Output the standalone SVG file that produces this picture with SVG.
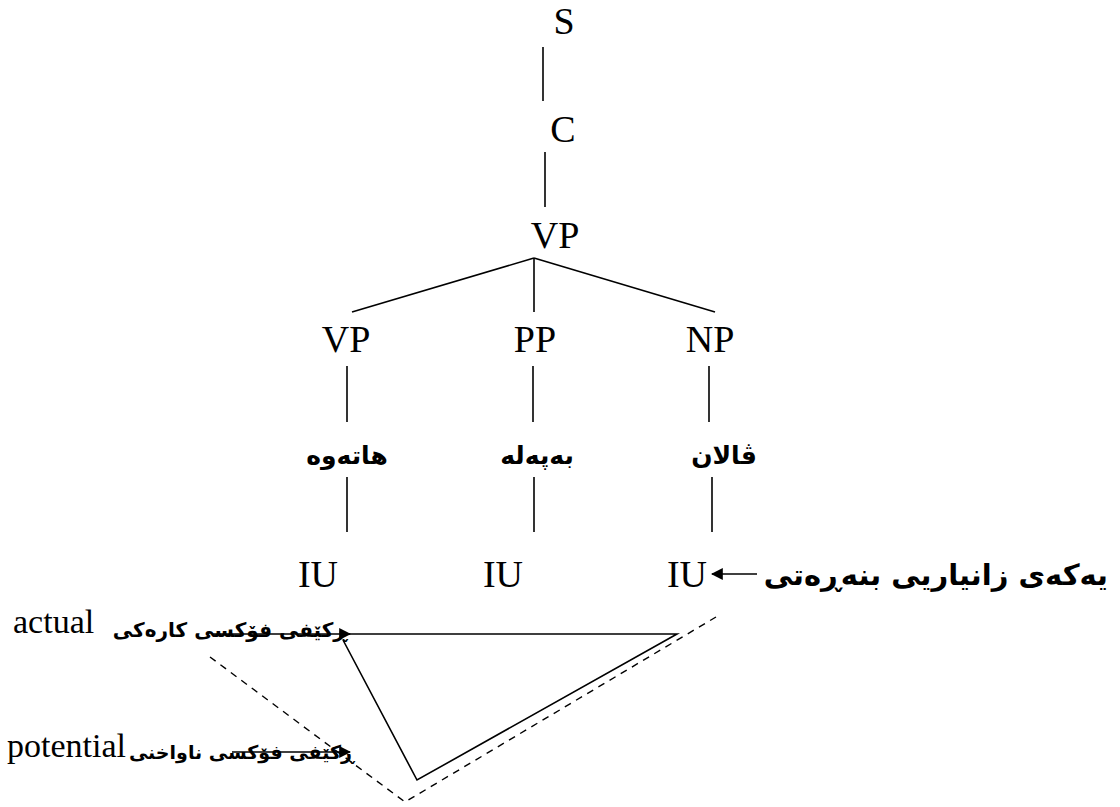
<svg xmlns="http://www.w3.org/2000/svg" width="1120" height="807" viewBox="0 0 1120 807">
<style>
.lbl{font-family:"Liberation Serif","Times New Roman",serif;font-size:38px;fill:#000;text-anchor:middle}
.en{font-family:"Liberation Serif","Times New Roman",serif;font-size:34px;fill:#000}
.ku{font-family:"DejaVu Sans","Noto Sans",sans-serif;font-weight:bold;font-size:25px;fill:#000;text-anchor:middle}
.kus{font-family:"DejaVu Sans","Noto Sans",sans-serif;font-weight:bold;font-size:20px;fill:#000;text-anchor:end}
.ln{stroke:#000;stroke-width:1.6;fill:none}
.ds{stroke:#000;stroke-width:1.4;fill:none;stroke-dasharray:7 6}
</style>
<defs>
<marker id="ahb" viewBox="0 0 10 10" refX="9" refY="5" markerWidth="12" markerHeight="12" markerUnits="userSpaceOnUse" orient="auto">
<path d="M0,0 L10,5 L0,10 z" fill="#000"/>
</marker>
</defs>
<g id="connectors">
<line class="ln" x1="543" y1="47" x2="543" y2="101"/>
<line class="ln" x1="545" y1="152" x2="545" y2="207"/>
<line class="ln" x1="534" y1="258" x2="352" y2="312"/>
<line class="ln" x1="534" y1="258" x2="534" y2="312"/>
<line class="ln" x1="534" y1="258" x2="715" y2="312"/>
<line class="ln" x1="347" y1="366" x2="347" y2="422"/>
<line class="ln" x1="533" y1="366" x2="533" y2="422"/>
<line class="ln" x1="709" y1="366" x2="709" y2="422"/>
<line class="ln" x1="347" y1="477" x2="347" y2="532"/>
<line class="ln" x1="534" y1="477" x2="534" y2="532"/>
<line class="ln" x1="712" y1="477" x2="712" y2="532"/>
<line class="ln" x1="757" y1="574" x2="712" y2="574" marker-end="url(#ahb)"/>
<line class="ln" x1="212" y1="634" x2="350" y2="634" marker-end="url(#ahb)"/>
<line class="ln" x1="232" y1="752" x2="350" y2="752" marker-end="url(#ahb)"/>
</g>
<g id="triangle">
<polyline class="ln" points="343,634 677,634 417,780 343,640"/>
<polyline class="ds" points="210,657 405,802 716,617"/>
</g>
<g id="node-S"><text class="lbl" x="564" y="34">S</text></g>
<g id="node-C"><text class="lbl" x="563" y="142">C</text></g>
<g id="node-VP"><text class="lbl" x="555" y="248">VP</text></g>
<g id="node-VP2"><text class="lbl" x="346" y="352">VP</text></g>
<g id="node-PP"><text class="lbl" x="535" y="352">PP</text></g>
<g id="node-NP"><text class="lbl" x="710" y="352">NP</text></g>
<g id="node-w1"><text class="ku" x="347" y="464">هاتەوە</text></g>
<g id="node-w2"><text class="ku" x="537" y="464">بەپەلە</text></g>
<g id="node-w3"><text class="ku" x="724" y="464">ڤالان</text></g>
<g id="node-IU1"><text class="lbl" x="318" y="587">IU</text></g>
<g id="node-IU2"><text class="lbl" x="503" y="587">IU</text></g>
<g id="node-IU3"><text class="lbl" x="687" y="587">IU</text></g>
<g id="label-unit"><text class="kus" x="1108" y="585" style="font-size:29px">یەکەی زانیاریی بنەڕەتی</text></g>
<g id="label-actual">
<text class="en" x="13" y="633">actual</text>
<text class="kus" x="347" y="637">ڕکێفی فۆکسی کارەکی</text>
</g>
<g id="label-potential">
<text class="en" x="7" y="757">potential</text>
<text class="kus" x="354" y="759" style="font-size:19px">ڕکێفی فۆکسی ناواخنی</text>
</g>
</svg>
